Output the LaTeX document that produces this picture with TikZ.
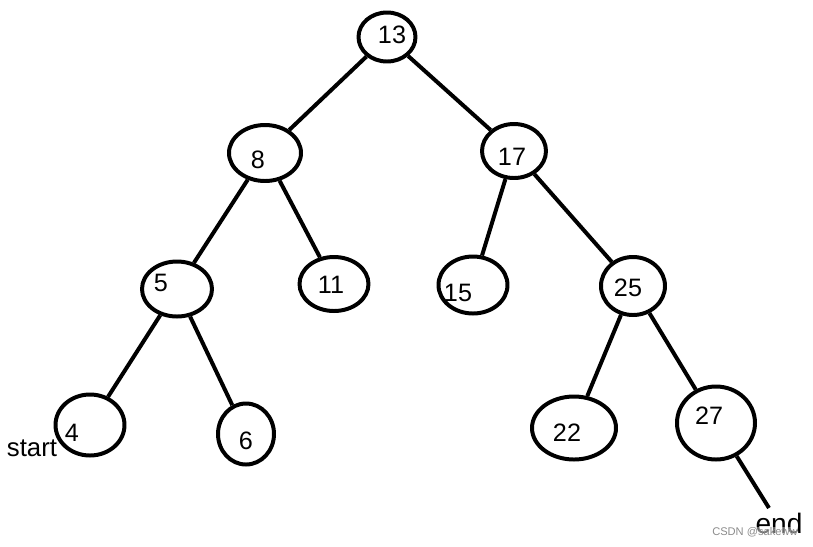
\documentclass[tikz,border=0pt]{standalone}
\usepackage{fontspec}
\setmainfont{Liberation Sans}
\usetikzlibrary{shapes.geometric}
\definecolor{wmark}{RGB}{140,140,140}
\tikzset{
  treenode/.style={draw=black, ellipse, line width=3.4pt, inner sep=0pt},
  key/.style={font=\fontsize{21.5}{25}\selectfont, inner sep=0pt},
  edge/.style={draw=black, line width=3.4pt},
  tag/.style={font=\fontsize{22}{26}\selectfont, inner sep=0pt},
  every picture/.append style={line join=round}
}
\begin{document}
\begin{tikzpicture}[x=0.03cm, y=-0.03cm]
  \useasboundingbox (0,0) rectangle (813,546);
  % tree nodes
  \node[treenode, minimum width=1.71cm, minimum height=1.47cm] (n13) at (387,37) {};
  \node[treenode, minimum width=2.16cm, minimum height=1.68cm] (n8) at (265,153) {};
  \node[treenode, minimum width=1.92cm, minimum height=1.62cm] (n17) at (514,151) {};
  \node[treenode, minimum width=2.10cm, minimum height=1.65cm] (n5) at (177,289) {};
  \node[treenode, minimum width=2.07cm, minimum height=1.62cm] (n11) at (334,284) {};
  \node[treenode, minimum width=2.07cm, minimum height=1.71cm] (n15) at (473,285) {};
  \node[treenode, minimum width=1.92cm, minimum height=1.74cm] (n25) at (633,286) {};
  \node[treenode, minimum width=2.07cm, minimum height=1.83cm] (n4) at (90,425) {};
  \node[treenode, minimum width=1.68cm, minimum height=1.83cm] (n6) at (246,434) {};
  \node[treenode, minimum width=2.52cm, minimum height=1.89cm] (n22) at (574,428) {};
  \node[treenode, minimum width=2.34cm, minimum height=2.19cm] (n27) at (716,423) {};
  % keys
  \node[key] (t13) at (392,35) {13};
  \node[key] (t8) at (258,160) {8};
  \node[key] (t17) at (512,157) {17};
  \node[key] (t5) at (161,283) {5};
  \node[key] (t11) at (331,285) {11};
  \node[key] (t15) at (458,293) {15};
  \node[key] (t25) at (628,288) {25};
  \node[key] (t4) at (72,433) {4};
  \node[key] (t6) at (246,441) {6};
  \node[key] (t22) at (567,433) {22};
  \node[key] (t27) at (709,416) {27};
  % edges
  \draw[edge] (n13) -- (n8);
  \draw[edge] (n13) -- (n17);
  \draw[edge] (n8) -- (n5);
  \draw[edge] (n8) -- (n11);
  \draw[edge] (n17) -- (n15);
  \draw[edge] (n17) -- (n25);
  \draw[edge] (n5) -- (n4);
  \draw[edge] (n5) -- (n6);
  \draw[edge] (n25) -- (n22);
  \draw[edge] (n25) -- (n27);
  \coordinate (tail) at (769,508);
  \draw[edge] (n27) -- (tail);
  % labels
  \node[tag] (start) at (32,448) {start};
  \node[tag, font=\fontsize{24}{28}\selectfont] (end) at (779,523) {end};
  \node[font=\fontsize{9.5}{11}\selectfont, text=wmark, fill=white, fill opacity=0.4, text opacity=1, inner sep=0pt] (csdn) at (755,532) {CSDN @sakeww};
\end{tikzpicture}
\end{document}
